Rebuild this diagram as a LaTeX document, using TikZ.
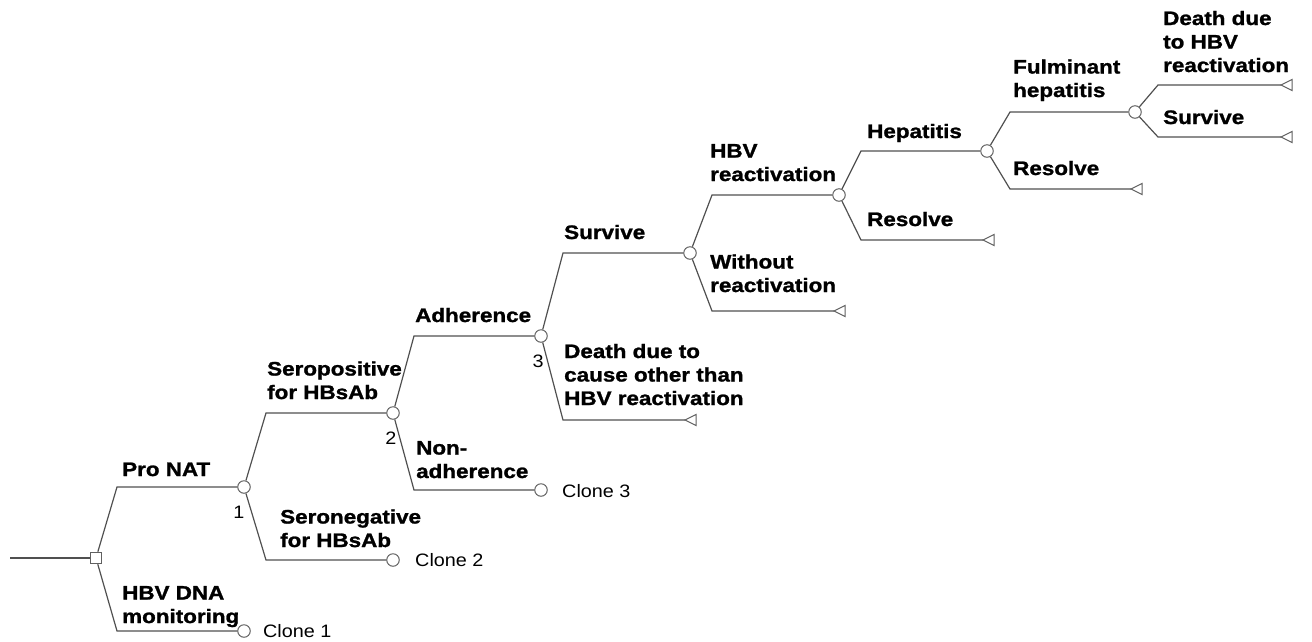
\documentclass[tikz,border=0pt]{standalone}
\usepackage{fontspec}
\setmainfont{Liberation Sans}
\newfontfamily\lblfont[FakeStretch=1.15,BoldFeatures={FakeBold=1.3}]{Liberation Sans}
\newfontfamily\clnfont[FakeStretch=1.1]{Liberation Sans}
\newcommand\mlines[1]{\begin{tabular}[b]{@{}l@{}}#1\end{tabular}}
\definecolor{linegray}{HTML}{505050}
\definecolor{circgray}{HTML}{606060}
\tikzset{
  branch/.style={draw=linegray, line width=1.2pt},
  chance/.style={circle, draw=circgray, fill=white, line width=1pt, inner sep=0pt, minimum size=12.5pt},
  decision/.style={rectangle, draw=circgray, fill=white, line width=1pt, inner sep=0pt, minimum size=11.5pt},
  terminal/.style={draw=circgray, fill=white, line width=1pt, line join=miter},
  lbl/.style={anchor=base west, inner sep=0pt, font=\lblfont\bfseries\fontsize{19.5}{23.5}\selectfont},
  clonelbl/.style={anchor=base west, inner sep=0pt, font=\clnfont\fontsize{18}{21}\selectfont},
  numlbl/.style={anchor=center, inner sep=0pt, font=\clnfont\fontsize{18}{21}\selectfont}
}
\begin{document}
\begin{tikzpicture}[x=1pt, y=-1pt]
\path[use as bounding box] (0,0) rectangle (1312,641);

% corner and end coordinates
\coordinate (root) at (10,558);
\coordinate (k1) at (117,487);
\coordinate (k1b) at (117,631);
\coordinate (k2) at (266,413);
\coordinate (k2b) at (266,560);
\coordinate (k3) at (414,336);
\coordinate (k3b) at (414,490);
\coordinate (k4) at (563,253);
\coordinate (k4b) at (563,420);
\coordinate (k5) at (712,195);
\coordinate (k5b) at (712,311);
\coordinate (k6) at (861,151);
\coordinate (k6b) at (861,240);
\coordinate (k7) at (1010,112);
\coordinate (k7b) at (1010,189);
\coordinate (k8) at (1158,85);
\coordinate (k8b) at (1158,137);

\coordinate (t4b) at (685,420);
\coordinate (t5b) at (834,311);
\coordinate (t6b) at (983,240);
\coordinate (t7b) at (1131,189);
\coordinate (t8) at (1281,85);
\coordinate (t8b) at (1281,137);

% nodes
\node[decision] (s) at (96,558) {};
\node[chance] (c1) at (244,487) {};
\node[chance] (cl1) at (244,631) {};
\node[chance] (c2) at (393,413) {};
\node[chance] (cl2) at (393,560) {};
\node[chance] (c3) at (541,336) {};
\node[chance] (cl3) at (541,490) {};
\node[chance] (c4) at (690,253) {};
\node[chance] (c5) at (839,195) {};
\node[chance] (c6) at (987,151) {};
\node[chance] (c7) at (1135,112) {};

% branches
\draw[branch] (root) -- (s);
\draw[branch] (s) -- (k1) -- (c1);
\draw[branch] (s) -- (k1b) -- (cl1);
\draw[branch] (c1) -- (k2) -- (c2);
\draw[branch] (c1) -- (k2b) -- (cl2);
\draw[branch] (c2) -- (k3) -- (c3);
\draw[branch] (c2) -- (k3b) -- (cl3);
\draw[branch] (c3) -- (k4) -- (c4);
\draw[branch] (c3) -- (k4b) -- (t4b);
\draw[branch] (c4) -- (k5) -- (c5);
\draw[branch] (c4) -- (k5b) -- (t5b);
\draw[branch] (c5) -- (k6) -- (c6);
\draw[branch] (c5) -- (k6b) -- (t6b);
\draw[branch] (c6) -- (k7) -- (c7);
\draw[branch] (c6) -- (k7b) -- (t7b);
\draw[branch] (c7) -- (k8) -- (t8);
\draw[branch] (c7) -- (k8b) -- (t8b);

% terminal triangles
\foreach \t in {t4b,t5b,t6b,t7b,t8,t8b}{
  \draw[terminal] (\t) -- ++(11,-5.5) -- ++(0,11) -- cycle;
}

% branch labels
\node[lbl] (lProNAT) at (122,476) {Pro NAT};
\node[lbl] (lHBVDNA) at (122,623) {\mlines{HBV DNA\\monitoring}};
\node[lbl] (lSeropos) at (267,399) {\mlines{Seropositive\\for HBsAb}};
\node[lbl] (lSeroneg) at (280,547) {\mlines{Seronegative\\for HBsAb}};
\node[lbl] (lAdh) at (415,322) {Adherence};
\node[lbl] (lNonAdh) at (416,478) {\mlines{Non-\\adherence}};
\node[lbl] (lSurv1) at (564,239) {Survive};
\node[lbl] (lDeath1) at (564,405) {\mlines{Death due to\\cause other than\\HBV reactivation}};
\node[lbl] (lReact) at (710,181) {\mlines{HBV\\reactivation}};
\node[lbl] (lWithout) at (710,292) {\mlines{Without\\reactivation}};
\node[lbl] (lHep) at (867,138) {Hepatitis};
\node[lbl] (lRes1) at (867,226) {Resolve};
\node[lbl] (lFul) at (1013,97) {\mlines{Fulminant\\hepatitis}};
\node[lbl] (lRes2) at (1013,175) {Resolve};
\node[lbl] (lDeath2) at (1163,72) {\mlines{Death due\\to HBV\\reactivation}};
\node[lbl] (lSurv2) at (1163,124) {Survive};

% clone labels
\node[clonelbl] (tc1) at (263,637) {Clone 1};
\node[clonelbl] (tc2) at (415,566) {Clone 2};
\node[clonelbl] (tc3) at (562,497) {Clone 3};

% numbers
\node[numlbl] (n1) at (239,512) {1};
\node[numlbl] (n2) at (391,438) {2};
\node[numlbl] (n3) at (538,361) {3};
\end{tikzpicture}
\end{document}
